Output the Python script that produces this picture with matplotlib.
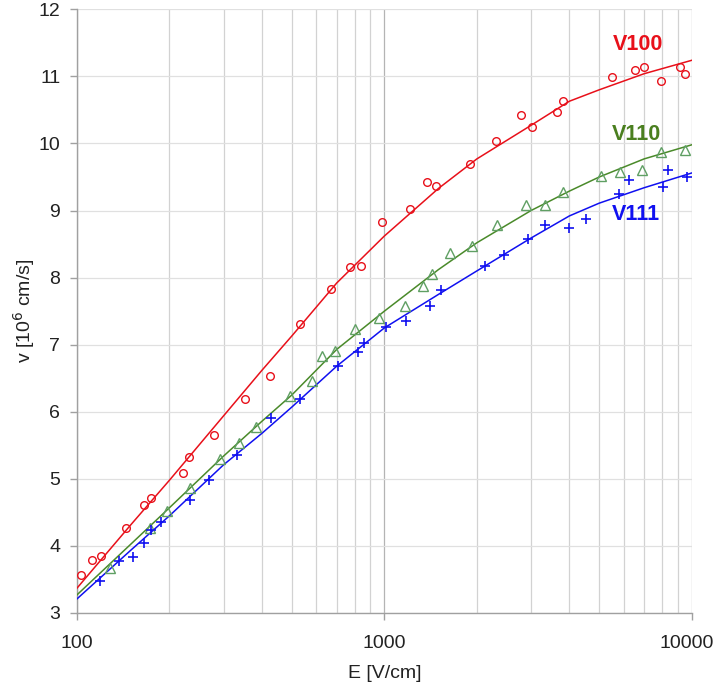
import matplotlib
matplotlib.use("Agg")
import matplotlib.pyplot as plt
from matplotlib.ticker import FixedLocator, NullFormatter, FixedFormatter
from matplotlib.transforms import ScaledTranslation

plt.rcParams['font.family'] = ['Liberation Sans', 'DejaVu Sans']

# ---- data ----
# measured points
e100 = [103, 112, 120, 144, 165, 174, 221, 231, 280, 352, 426, 533, 669, 776, 842, 983,
        1209, 1376, 1477, 1897, 2308, 2780, 3022, 3647, 3820, 5489, 6547, 7010, 7965, 9184, 9540]
v100 = [3.56, 3.79, 3.85, 4.27, 4.61, 4.71, 5.09, 5.32, 5.66, 6.19, 6.53, 7.31, 7.83, 8.16, 8.18, 8.83,
        9.03, 9.42, 9.36, 9.70, 10.03, 10.43, 10.24, 10.47, 10.64, 10.99, 11.10, 11.14, 10.93, 11.14, 11.03]

e110 = [128, 173, 196, 234, 292, 336, 383, 495, 580, 625, 689, 800, 959,
        1171, 1332, 1431, 1638, 1925, 2328, 2893, 3334, 3820, 5087, 5827, 6890, 7947, 9540]
v110 = [3.67, 4.27, 4.52, 4.86, 5.29, 5.54, 5.78, 6.23, 6.46, 6.83, 6.90, 7.23, 7.40,
        7.58, 7.87, 8.05, 8.37, 8.47, 8.78, 9.08, 9.08, 9.27, 9.51, 9.58, 9.60, 9.87, 9.91]

e111 = [119, 137, 152, 165, 174, 187, 234, 269, 332, 429, 533, 706, 818, 860, 1010,
        1180, 1404, 1526, 2131, 2443, 2943, 3334, 3992, 4539, 5785, 6256, 8066, 8367, 9655]
v111 = [3.48, 3.77, 3.84, 4.04, 4.23, 4.36, 4.69, 4.99, 5.36, 5.90, 6.19, 6.68, 6.89, 7.02, 7.27,
        7.36, 7.58, 7.81, 8.18, 8.33, 8.57, 8.79, 8.74, 8.88, 9.24, 9.45, 9.35, 9.60, 9.50]

# fitted curves
e_fit = [100, 150, 200, 300, 400, 500, 700, 1000, 1500, 2000, 3000, 4000, 5000, 7000, 10000]
f100 = [3.37, 4.32, 4.98, 5.94, 6.62, 7.13, 7.92, 8.62, 9.33, 9.77, 10.27, 10.63, 10.80, 11.04, 11.24]
f110 = [3.27, 4.03, 4.57, 5.34, 5.86, 6.25, 6.93, 7.50, 8.12, 8.52, 9.00, 9.29, 9.50, 9.77, 9.98]
f111 = [3.21, 3.94, 4.45, 5.21, 5.68, 6.07, 6.68, 7.25, 7.75, 8.10, 8.59, 8.92, 9.11, 9.34, 9.56]

labels = ['V100', 'V110', 'V111']
xticks = [100, 1000, 10000]
xticklabels = ['100', '1000', '10000']
yticks = [3, 4, 5, 6, 7, 8, 9, 10, 11, 12]

red = '#e8101a'
green_line = '#4a8a2a'
green_mk = '#5f9f63'
green_txt = '#4a7f1f'
blue = '#1010f0'

fig = plt.figure(figsize=(7.14, 6.91), dpi=100)
ax = fig.add_axes([0.1078, 0.1129, 0.8610, 0.8736])

ax.set_xscale('log')
ax.set_xlim(100, 10000)
ax.set_ylim(3, 12)

# grid
minor = [m * d for d in (100, 1000) for m in range(2, 10)]
for x in minor:
    ax.axvline(x, color='#d2d2d2', lw=0.9, zorder=0)
for x in xticks:
    ax.axvline(x, color='#b4b4b4', lw=0.9, zorder=0)
for y in yticks:
    ax.axhline(y, color='#e0e0e0', lw=0.9, zorder=0)

ax.plot(e_fit, f100, color=red, lw=1.1, zorder=3)
ax.plot(e_fit, f110, color=green_line, lw=1.1, zorder=3)
ax.plot(e_fit, f111, color=blue, lw=1.1, zorder=3)

ax.plot(e100, v100, linestyle='none', marker='o', ms=5.5, mfc='none', mec=red, mew=1.0, zorder=4)
ax.plot(e110, v110, linestyle='none', marker='^', ms=6.5, mfc='none', mec=green_mk, mew=1.0, zorder=4)
ax.plot(e111, v111, linestyle='none', marker='+', ms=7, mec=blue, mew=1.2, zorder=4)

ax.text(6700, 11.47, labels[0], color=red, fontsize=15.5, fontweight='bold', ha='center', va='center')
ax.text(6600, 10.14, labels[1], color=green_txt, fontsize=15.5, fontweight='bold', ha='center', va='center')
ax.text(6600, 8.94, labels[2], color=blue, fontsize=15.5, fontweight='bold', ha='center', va='center')

for s in ['top', 'right']:
    ax.spines[s].set_visible(False)
for s in ['left', 'bottom']:
    ax.spines[s].set_color('#a0a0a0')
    ax.spines[s].set_linewidth(1.0)

ax.xaxis.set_major_locator(FixedLocator(xticks))
ax.xaxis.set_major_formatter(FixedFormatter(xticklabels))
ax.xaxis.set_minor_locator(FixedLocator([]))
ax.xaxis.set_minor_formatter(NullFormatter())
ax.set_yticks(yticks)
ax.set_yticklabels([str(y) for y in yticks])
ax.tick_params(axis='both', which='major', direction='out', length=5, width=1.0,
               color='#a0a0a0', labelsize=14, labelcolor='#222222')
ax.tick_params(axis='x', pad=11)
ax.tick_params(axis='y', pad=7)

# keep the last x tick label inside the figure
last = ax.get_xticklabels()[-1]
last.set_transform(last.get_transform() + ScaledTranslation(-5 / 100, 0, fig.dpi_scale_trans))

ax.set_xlabel('E [V/cm]', fontsize=14, color='#222222', labelpad=9)
ax.set_ylabel('v [10$^6$ cm/s]', fontsize=14, color='#222222')
ax.yaxis.set_label_coords(-0.065, 0.5)

fig.savefig('out.png', dpi=100)
